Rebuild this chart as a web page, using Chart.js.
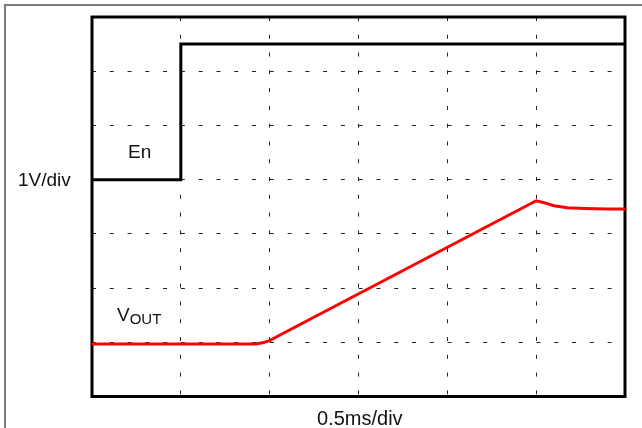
<!DOCTYPE html>
<html>
<head>
<meta charset="utf-8">
<script src="https://cdn.jsdelivr.net/npm/chart.js@4.4.1/dist/chart.umd.min.js"></script>
<style>
  html, body { margin: 0; padding: 0; background: #fff; }
  #wrap { position: relative; width: 642px; height: 428px; overflow: hidden; }
  #frame { position: absolute; left: 4px; top: 4px; width: 700px; height: 500px;
           border-top: 2px solid #7a7a7a; border-left: 2px solid #7a7a7a; }
  canvas { position: absolute; left: 0; top: 0; }
  .lbl { position: absolute; font-family: "Liberation Sans", Arial, sans-serif;
         font-size: 19px; line-height: 19px; color: #111; white-space: nowrap; }
  .lbl sub { font-size: 15px; vertical-align: -3px; line-height: 0; }
</style>
</head>
<body>
<div id="wrap">
  <div id="frame"></div>
  <canvas id="scope" width="642" height="428"></canvas>
  <div class="lbl" style="left:18px; top:170px;">1V/div</div>
  <div class="lbl" style="left:128px; top:142px;">En</div>
  <div class="lbl" style="left:117px; top:305px;">V<sub>OUT</sub></div>
  <div class="lbl" style="left:317px; top:409px; font-size:20px;">0.5ms/div</div>
</div>
<script>
// time in divisions (0.5ms/div), level in divisions (1V/div)
var enTime = [0, 1, 1, 6];
var enLevel = [4, 4, 6.5, 6.5];

var voutTime = [0, 1.84, 1.92, 2.0, 2.1, 5.0, 5.08, 5.2, 5.35, 5.55, 5.8, 6.0];
var voutLevel = [0.97, 0.97, 0.99, 1.03, 1.12, 3.61, 3.58, 3.52, 3.48, 3.47, 3.46, 3.46];

function toPoints(xs, ys) {
    return xs.map(function (x, i) { return { x: x, y: ys[i] }; });
}

// black box around the plot area
var plotFrame = {
    id: 'plotFrame',
    beforeDatasetsDraw: function (chart) {
        var a = chart.chartArea, ctx = chart.ctx;
        ctx.save();
        ctx.strokeStyle = '#000';
        ctx.lineWidth = 3;
        ctx.strokeRect(a.left, a.top, a.right - a.left, a.bottom - a.top);
        ctx.restore();
    }
};

var ctx = document.getElementById('scope').getContext('2d');

var scopeChart = new Chart(ctx, {
    type: 'line',
    data: {
        datasets: [
            {
                label: 'En',
                data: toPoints(enTime, enLevel),
                borderColor: '#000',
                borderWidth: 3,
                pointRadius: 0,
                tension: 0,
                fill: false
            },
            {
                label: 'VOUT',
                data: toPoints(voutTime, voutLevel),
                borderColor: '#ff0000',
                borderWidth: 3,
                pointRadius: 0,
                tension: 0,
                fill: false
            }
        ]
    },
    options: {
        responsive: false,
        animation: false,
        layout: { padding: { left: 92, top: 17, right: 17, bottom: 31.5 } },
        plugins: {
            legend: { display: false },
            tooltip: { enabled: false }
        },
        scales: {
            x: {
                type: 'linear',
                min: 0,
                max: 6,
                ticks: { display: false, stepSize: 1 },
                grid: { color: '#222', lineWidth: 1, drawTicks: false },
                border: { display: false, dash: [4, 13.78] }
            },
            y: {
                type: 'linear',
                min: 0,
                max: 7,
                ticks: { display: false, stepSize: 1 },
                grid: { color: '#222', lineWidth: 1, drawTicks: false },
                border: { display: false, dash: [4, 13.78] }
            }
        }
    },
    plugins: [plotFrame]
});
</script>
</body>
</html>
